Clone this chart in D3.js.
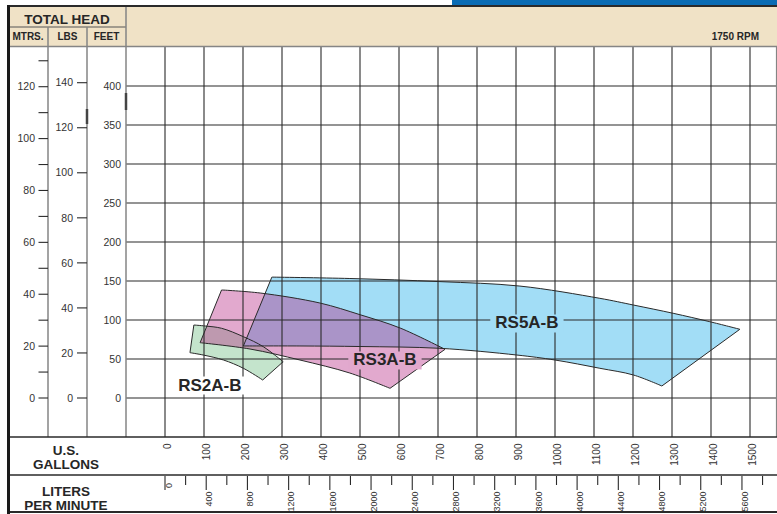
<!DOCTYPE html>
<html><head><meta charset="utf-8">
<script src="https://cdn.jsdelivr.net/npm/d3@7"></script>
<style>
html,body{margin:0;padding:0;background:#fff}
svg{display:block;font-family:"Liberation Sans",Arial,Helvetica,sans-serif}
</style>
</head><body>
<svg id="c" width="777" height="514"></svg>
<script>
// ---------- data ----------
const gallonTicks = [0,100,200,300,400,500,600,700,800,900,1000,1100,1200,1300,1400,1500];
const literTicks = d3.range(0, 5801, 200);          // minor every 200
const literLabels = [0,400,800,1200,1600,2000,2400,2800,3200,3600,4000,4400,4800,5200,5600];
const feetTicks = [0,50,100,150,200,250,300,350,400];
const meterTicks = [0,10,20,30,40,50,60,70,80,90,100,110,120,130];
const meterLabels = [0,20,40,60,80,100,120];
const lbsTicks = [0,20,40,60,80,100,120,140];

// region outlines: [gallons, feet]
const rs5Top    = [[274,155],[474,153.2],[705,149.2],[910,143.5],[1115,127.8],[1201,119.2],[1303,108.6],[1397,97.8],[1474,88.1]];
const rs5Bottom = [[201,66.7],[346,66.7],[500,66],[705,63.7],[902,55.1],[1000,48.7],[1115,38.1],[1201,29.5],[1274,15.4]];
const rs3Top    = [[145,138.5],[244,134.6],[397,121.8],[500,106.8],[603,89.7],[718,62.4]];
const rs3Bottom = [[90,70.9],[218,62.8],[346,48.7],[474,32],[577,12.4]];
const rs2Top    = [[74,93.6],[103,92.3],[145,89.4],[201,78.6],[252,65.8],[303,46.5]];
const rs2Bottom = [[64,58.1],[98,55.1],[150,48.7],[201,38.1],[250.5,23.1]];

const regionNames = ["RS2A-B","RS5A-B","RS3A-B"];
const labelGallons = [115, 928, 564];
const labelFeet = [17.3, 96.8, 49.4];

// ---------- scales ----------
const x = d3.scaleLinear().domain([0,1500]).range([165,750]);
const xL = d3.scaleLinear().domain([0,1500*3.7854]).range([165,750]);
const yF = d3.scaleLinear().domain([0,400]).range([398,86]);
const yM = d3.scaleLinear().domain([0,120]).range([398,86.7]);
const yP = d3.scaleLinear().domain([0,140]).range([398,82.7]);

const svg = d3.select("#c");
const dark = "#2a2a2a", gray = "#858585";

const gBack = svg.append("g");
const gFill = svg.append("g");
const gGrid = svg.append("g").attr("stroke",dark).attr("stroke-width",1.1);
const gOut = svg.append("g");
const gFrame = svg.append("g");
const gLab = svg.append("g");
const gText = svg.append("g").attr("fill","#262626");

// background / header band
gBack.append("rect").attr("width",777).attr("height",514).attr("fill","#fff");
gBack.append("rect").attr("x",8).attr("y",7).attr("width",769).attr("height",40).attr("fill","#f0e2c6");
gBack.append("rect").attr("x",452).attr("y",0).attr("width",325).attr("height",5).attr("fill","#0a6cb4");

// regions
const styles = {
  "RS2A-B": {fill:"#c4e4cc", op:1, bg:"#ffffff"},
  "RS5A-B": {fill:"#a2ddf6", op:1, bg:"#a2ddf6"},
  "RS3A-B": {fill:"rgb(182,40,132)", op:0.4, bg:"#e1a8cd"}
};
const regionData = {"RS5A-B":[rs5Top,rs5Bottom],"RS3A-B":[rs3Top,rs3Bottom],"RS2A-B":[rs2Top,rs2Bottom]};
const curve = d3.line().x(d=>x(d[0])).y(d=>yF(d[1])).curve(d3.curveCatmullRom.alpha(0.5));
function regionPath(top,bottom){
  const t = curve(top);
  const b = curve(bottom.slice().reverse());
  return t + "L" + b.slice(1) + "Z";
}
regionNames.forEach(n=>{
  const [t,b] = regionData[n];
  gFill.append("path").attr("d",regionPath(t,b)).attr("fill",styles[n].fill).attr("fill-opacity",styles[n].op);
  gOut.append("path").attr("d",regionPath(t,b)).attr("fill","none").attr("stroke",dark).attr("stroke-width",1);
});

// grid
gGrid.selectAll("line.v").data(gallonTicks).join("line").attr("class","v")
  .attr("x1",d=>x(d)).attr("x2",d=>x(d)).attr("y1",47).attr("y2",437);
gGrid.selectAll("line.h").data(feetTicks).join("line").attr("class","h")
  .attr("x1",126).attr("x2",777).attr("y1",d=>yF(d)).attr("y2",d=>yF(d));

// frame lines
function ln(g,x1,y1,x2,y2,c,w){ g.append("line").attr("x1",x1).attr("y1",y1).attr("x2",x2).attr("y2",y2).attr("stroke",c).attr("stroke-width",w); }
ln(gFrame,8,6,777,6,dark,2);
ln(gFrame,8,27,126,27,"#555",1.2);
ln(gFrame,8,46.5,777,46.5,gray,1.5);
ln(gFrame,48,27,48,437,gray,1.5);
ln(gFrame,87,27,87,437,gray,1.5);
ln(gFrame,126,7,126,437,gray,1.5);
ln(gFrame,776.5,47,776.5,437,gray,1.2);
ln(gFrame,8,437,777,437,dark,1.5);
ln(gFrame,8,475,777,475,dark,1.5);
ln(gFrame,8,512,777,512,dark,2);
ln(gFrame,8.5,5,8.5,514,"#1a1a1a",3);
ln(gFrame,87,109,87,124,"#444",2.5);
ln(gFrame,126,93,126,110,"#444",2.5);

// region labels with knock-out behind them
regionNames.forEach((n,i)=>{
  const t = gLab.append("text").attr("x",x(labelGallons[i])).attr("y",yF(labelFeet[i])+6).attr("text-anchor","middle")
    .attr("font-size",17).attr("font-weight","bold").attr("fill","#262626").text(n);
  const bb = t.node().getBBox();
  gLab.insert("rect", function(){return t.node();})
    .attr("x",bb.x-5).attr("y",bb.y+1).attr("width",bb.width+10).attr("height",bb.height-1).attr("fill",styles[n].bg);
});

// header / row titles
function txt(x0,y0,s,size,anchor,weight){ return gText.append("text").attr("x",x0).attr("y",y0).attr("font-size",size).attr("text-anchor",anchor||"middle").attr("font-weight",weight||"normal").text(s); }
txt(67,23.5,"TOTAL HEAD",13.5,"middle","bold");
txt(28,40,"MTRS.",10,"middle","bold");
txt(67.5,40,"LBS",10,"middle","bold");
txt(106.5,40,"FEET",10,"middle","bold");
txt(759,40,"1750 RPM",10,"end","bold");
txt(66,455,"U.S.",13.5,"middle","bold");
txt(66,469,"GALLONS",13.5,"middle","bold");
txt(66,496,"LITERS",13.5,"middle","bold");
txt(66,510,"PER MINUTE",13.5,"middle","bold");

// left axes
const gAx = svg.append("g").attr("font-size",10.5).attr("fill","#333");
meterTicks.forEach(m=>ln(gFrame,38.5,yM(m),48,yM(m),dark,1.1));
meterLabels.forEach(m=>gAx.append("text").attr("x",35).attr("y",yM(m)).attr("dy","0.35em").attr("text-anchor","end").text(m));
lbsTicks.forEach(p=>{ ln(gFrame,77,yP(p),87,yP(p),dark,1.1);
  gAx.append("text").attr("x",73).attr("y",yP(p)).attr("dy","0.35em").attr("text-anchor","end").text(p); });
feetTicks.forEach(f=>gAx.append("text").attr("x",121).attr("y",yF(f)).attr("dy","0.35em").attr("text-anchor","end").text(f));

// bottom axes
const gB = svg.append("g").attr("fill","#333");
gallonTicks.forEach(g=>gB.append("text").attr("font-size",10).attr("transform",`translate(${x(g)+2.5},443.5) rotate(-90)`)
  .attr("text-anchor","end").attr("dy","0.35em").text(g));
literTicks.forEach(l=>{ const major = literLabels.includes(l);
  ln(gFrame,xL(l),476,xL(l),major?490:485,dark,1.1); });
literLabels.forEach(l=>gB.append("text").attr("font-size",9).attr("transform",`translate(${xL(l)+(l===0?3.5:2.5)},${l===0?483:491.5}) rotate(-90)`)
  .attr("text-anchor","end").attr("dy","0.35em").text(l));
</script>
</body></html>
